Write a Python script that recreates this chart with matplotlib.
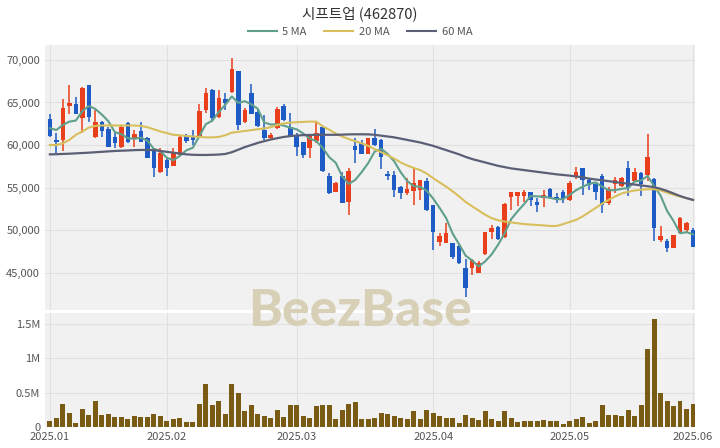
import numpy as np
import matplotlib
matplotlib.use("Agg")
import matplotlib.pyplot as plt
from matplotlib.lines import Line2D
from matplotlib.ticker import FuncFormatter

plt.rcParams['font.family'] = ['Noto Sans CJK KR', 'DejaVu Sans']

title = "시프트업 (462870)"

opens = [63000, 60600, 60600, 64600, 64800, 63150, 67000, 60900, 62650, 61850,
         61000, 59800, 62550, 60800, 61700, 60800, 59400, 56800, 58250, 57550,
         58850, 61050, 61050, 60900, 64100, 66450, 63250, 65400, 66200, 68700,
         62650, 66100, 63900, 61750, 60800, 61950, 64600, 62100, 61200, 60300,
         59600, 60500, 62150, 56300, 54500, 56400, 53250, 59900, 60200, 59000,
         60800, 60600, 56650, 56450, 55100, 54400, 54600, 54700, 55800, 52950,
         48650, 48500, 48500, 48100, 45500, 45500, 45000, 47200, 49800, 50400,
         49150, 53900, 54050, 53950, 54500, 53350, 53750, 54800, 53900, 54450,
         53550, 56300, 57250, 55900, 55400, 56350, 53200, 55400, 55200, 57250,
         55800, 56750, 56450, 55950, 48850, 48750, 47850, 49700, 50000, 50000]
highs = [63700, 61450, 65400, 67000, 65700, 66850, 67000, 64100, 62850, 62150,
         61450, 62350, 62650, 61750, 62650, 61000, 59500, 59600, 58450, 59600,
         61200, 61250, 61750, 64850, 66650, 66550, 66450, 66100, 70200, 68700,
         64300, 67200, 64100, 63550, 61450, 64450, 64800, 63750, 61450, 60400,
         61250, 62650, 62250, 56700, 55700, 56850, 57250, 60800, 60600, 60800,
         61850, 60650, 56950, 56950, 55150, 56150, 57250, 55900, 56100, 52950,
         49600, 50850, 48500, 48250, 46650, 46650, 46400, 49800, 50600, 50450,
         53150, 54500, 54500, 54700, 54500, 53750, 54700, 54900, 54400, 54700,
         55800, 57450, 57250, 56100, 55700, 56650, 55100, 56250, 56250, 58150,
         57250, 56850, 61350, 56100, 50450, 48900, 49450, 51550, 51000, 50200]
lows = [60900, 59100, 59300, 63700, 63700, 61450, 62750, 60850, 61000, 59800,
        59600, 59600, 60200, 59800, 60300, 58450, 56200, 56750, 56300, 57550,
        58700, 60200, 60000, 60800, 63750, 62650, 63150, 64100, 66100, 61750,
        62550, 63600, 62100, 60600, 60650, 61850, 62850, 61000, 58650, 58500,
        58500, 60200, 56850, 54250, 54450, 53150, 51750, 57850, 58950, 58950,
        59900, 57150, 55900, 53850, 53600, 54100, 52950, 53550, 52250, 47650,
        48100, 48450, 46650, 46000, 42150, 44700, 44900, 47050, 49000, 48800,
        49050, 52400, 52800, 53350, 52850, 52150, 52750, 53850, 53150, 53150,
        53450, 55950, 54100, 54700, 53550, 52050, 52950, 54400, 55100, 54000,
        55700, 54000, 55800, 48750, 48650, 47450, 47850, 49600, 49600, 47950]
closes = [61100, 60300, 64400, 64900, 63700, 66650, 63300, 62650, 61600, 59800,
          60200, 62100, 60300, 61300, 60400, 58500, 57250, 59050, 57250, 59050,
          61000, 60500, 60600, 64000, 66100, 63150, 65500, 64900, 68900, 62350,
          64100, 63700, 62250, 60800, 61200, 64200, 62950, 61050, 59800, 58800,
          61200, 61450, 57000, 54400, 55500, 53200, 57000, 59400, 59000, 60800,
          60000, 58600, 56300, 54700, 54400, 54850, 55550, 55900, 52400, 49800,
          49300, 49600, 46800, 46100, 43150, 46450, 46100, 49800, 50200, 48900,
          53050, 54450, 54450, 54450, 53550, 52950, 54100, 53900, 53600, 53600,
          55500, 56850, 55900, 55300, 54500, 52950, 54800, 55900, 56100, 54900,
          56850, 55400, 58550, 50200, 49300, 47850, 49400, 51400, 50800, 48050]

ma5 = [61970, 61770, 62360, 62750, 62880, 63990, 64590, 64240, 63580, 62800,
       61510, 61270, 60800, 60740, 60860, 60520, 59550, 59300, 58490, 58220,
       58720, 59370, 59680, 61030, 62440, 62870, 63870, 64730, 65710, 64960,
       65150, 64790, 64260, 62640, 62410, 62430, 62280, 62040, 61840, 61360,
       60760, 60460, 59650, 58570, 57910, 56310, 55420, 55900, 56820, 57880,
       59240, 59560, 58940, 58080, 56800, 55770, 55160, 55080, 54620, 53700,
       52590, 51400, 49580, 48320, 46990, 46420, 45720, 46320, 47140, 48290,
       49610, 51280, 52210, 53060, 53990, 53970, 53900, 53790, 53620, 53630,
       54140, 54690, 55090, 55430, 55610, 55100, 54690, 54690, 54850, 54930,
       55710, 55830, 56360, 55180, 54060, 52260, 51060, 49630, 49750, 49500]
ma20 = [60000, 60000, 60200, 60600, 61200, 61600, 62050, 62250, 62300, 62300,
        62300, 62300, 62300, 62300, 62250, 62100, 61850, 61600, 61400, 61200,
        61150, 61050, 61000, 60950, 60900, 60900, 60950, 61150, 61450, 61550,
        61650, 61750, 61850, 61950, 62100, 62350, 62550, 62620, 62680, 62720,
        62750, 62750, 62200, 61800, 61350, 61000, 60700, 60450, 60200, 59900,
        59500, 59150, 58800, 58400, 57950, 57600, 57300, 57050, 56650, 56100,
        55600, 55100, 54550, 53950, 53300, 52800, 52300, 51800, 51400, 51150,
        51000, 50900, 50800, 50700, 50650, 50600, 50550, 50480, 50480, 50700,
        50950, 51200, 51600, 52100, 52600, 53100, 53550, 53950, 54300, 54500,
        54650, 54750, 54800, 54800, 54650, 54400, 54150, 53950, 53750, 53520]
ma60 = [58900, 58920, 58950, 58980, 59020, 59060, 59100, 59150, 59200, 59250,
        59300, 59330, 59360, 59400, 59420, 59420, 59400, 59300, 59200, 59100,
        59000, 58900, 58850, 58830, 58830, 58850, 58880, 58950, 59150, 59450,
        59750, 60000, 60250, 60450, 60650, 60800, 60950, 61050, 61120, 61160,
        61180, 61200, 61200, 61200, 61200, 61220, 61250, 61260, 61260, 61250,
        61200, 61100, 61000, 60900, 60750, 60600, 60450, 60300, 60100, 59900,
        59650, 59400, 59150, 58900, 58600, 58350, 58150, 57950, 57750, 57550,
        57400, 57250, 57150, 57050, 56950, 56850, 56750, 56650, 56550, 56480,
        56400, 56300, 56200, 56050, 55950, 55850, 55750, 55650, 55550, 55450,
        55350, 55250, 55150, 55050, 54850, 54600, 54300, 54000, 53750, 53550]

volume = [0.09, 0.125, 0.33, 0.2, 0.065, 0.255, 0.18, 0.38, 0.17, 0.185,
          0.145, 0.145, 0.11, 0.16, 0.14, 0.14, 0.185, 0.16, 0.085, 0.11,
          0.135, 0.08, 0.08, 0.33, 0.63, 0.325, 0.38, 0.195, 0.625, 0.49,
          0.23, 0.325, 0.19, 0.165, 0.13, 0.245, 0.15, 0.315, 0.325, 0.155,
          0.13, 0.30, 0.325, 0.325, 0.115, 0.245, 0.33, 0.365, 0.11, 0.11,
          0.125, 0.2, 0.195, 0.155, 0.135, 0.12, 0.23, 0.115, 0.25, 0.21,
          0.155, 0.135, 0.125, 0.06, 0.175, 0.13, 0.10, 0.23, 0.12, 0.085,
          0.235, 0.125, 0.07, 0.09, 0.09, 0.085, 0.1, 0.085, 0.085, 0.045,
          0.085, 0.12, 0.14, 0.06, 0.085, 0.32, 0.17, 0.17, 0.155, 0.245,
          0.165, 0.315, 1.13, 1.57, 0.495, 0.38, 0.30, 0.375, 0.255, 0.34]

month_idx = [0, 18, 38, 59, 80, 99]
month_labels = ["2025.01", "2025.02", "2025.03", "2025.04", "2025.05", "2025.06"]

UP = "#ea3f1c"
DOWN = "#1f5bc5"
BG = "#f1f1f1"
GRID = "#e0e0e0"
TXT = "#555555"

o = np.array(opens)
h = np.array(highs)
l = np.array(lows)
c = np.array(closes)
x = np.arange(len(c))
cols = [UP if cc >= oo else DOWN for oo, cc in zip(o, c)]

fig = plt.figure(figsize=(7.2, 4.48), dpi=100)
ax = fig.add_axes([45 / 720, 1 - 310 / 448, 650 / 720, 265 / 448])
axv = fig.add_axes([45 / 720, 1 - 427 / 448, 650 / 720, 114 / 448])

for a in (ax, axv):
    a.set_facecolor(BG)
    for s in a.spines.values():
        s.set_visible(False)
    a.grid(True, color=GRID, linewidth=0.8)
    a.set_axisbelow(True)
    a.tick_params(length=0, colors=TXT, labelsize=8)
    a.set_xlim(-0.75, 99.3)
    a.set_xticks(month_idx)

# candles
ax.vlines(x, l, h, colors=cols, linewidth=1.1, zorder=3)
body = np.maximum(np.abs(c - o), 90)
ax.bar(x, body, bottom=np.minimum(o, c), width=0.7, color=cols, zorder=4)

ax.plot(x, ma5, color="#5f9f8c", linewidth=1.5, zorder=5)
ax.plot(x, ma20, color="#d8bf5c", linewidth=1.5, zorder=5)
ax.plot(x, ma60, color="#5b5f76", linewidth=1.6, zorder=5)

ax.set_ylim(40600, 71760)
ax.set_yticks([45000, 50000, 55000, 60000, 65000, 70000])
ax.yaxis.set_major_formatter(FuncFormatter(lambda v, p: f"{int(v):,}"))
ax.set_xticklabels([])

# volume
axv.bar(x, np.array(volume) * 1e6, width=0.75, color="#7a5b14", zorder=3)
axv.set_ylim(0, 1.66e6)
axv.set_yticks([0, 0.5e6, 1e6, 1.5e6])
axv.set_yticklabels(["0", "0.5M", "1M", "1.5M"])
axv.set_xticklabels(month_labels)
axv.tick_params(axis="x", pad=3.5)

fig.text(0.5, 1 - 311 / 448, "BeezBase", fontsize=37, fontweight="black",
         color="#d8d0b6", ha="center", va="center", family="Lato", zorder=10)

fig.text(0.5, 1 - 14 / 448, title, fontsize=10.5, color="#333333", ha="center", va="center")
handles = [Line2D([], [], color="#5f9f8c", linewidth=1.5),
           Line2D([], [], color="#d8bf5c", linewidth=1.5),
           Line2D([], [], color="#5b5f76", linewidth=1.5)]
fig.legend(handles, ["5 MA", "20 MA", "60 MA"], loc="center", bbox_to_anchor=(0.5, 1 - 32 / 448),
           ncol=3, frameon=False, fontsize=8, labelcolor=TXT, handlelength=2.6,
           columnspacing=1.6, handletextpad=0.5)

fig.savefig("out.png", dpi=100, facecolor="white")
